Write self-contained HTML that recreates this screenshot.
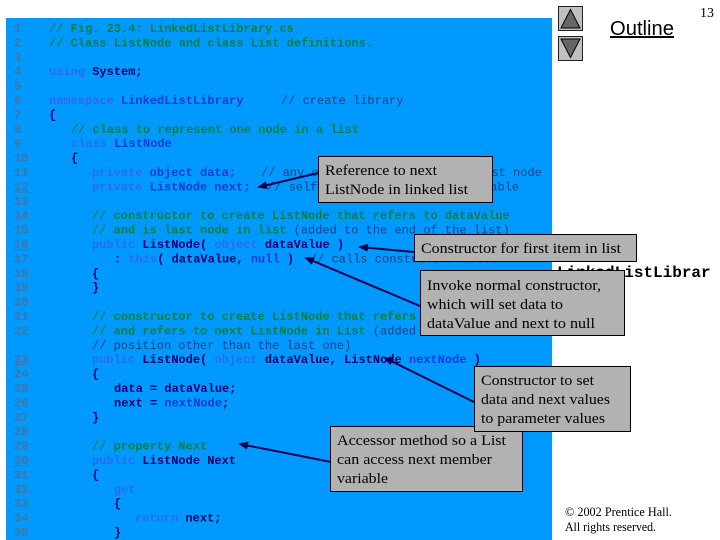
<!DOCTYPE html>
<html lang="en">
<head>
<meta charset="utf-8">
<title>Linked List Library</title>
<style>
html,body{margin:0;padding:0;background:#fff;width:720px;height:540px;overflow:hidden}
svg{display:block}
text{white-space:pre}
.c{font-family:"Liberation Mono",monospace;font-size:12px;font-weight:bold;fill:#00006a}
.n{font-family:"Liberation Mono",monospace;font-size:12px;font-weight:bold;fill:#46749f}
.g{fill:#00803c}
.k{fill:#2a6cf0}
.m{fill:#0a3cd8}
.r{font-weight:normal;fill:#14407f}
.b{font-family:"Liberation Serif",serif;font-size:15px;fill:#000}
.u{text-decoration:underline}
</style>
</head>
<body>
<svg width="720" height="540" viewBox="0 0 720 540" xmlns="http://www.w3.org/2000/svg">
<defs>
<marker id="a" markerWidth="10" markerHeight="8" refX="8" refY="4" orient="auto" markerUnits="userSpaceOnUse">
<path d="M0 0L10 4L0 8Z" fill="#000050"/>
</marker>
</defs>
<rect width="720" height="540" fill="#fff"/>
<rect x="6" y="18" width="546" height="522" fill="#0099ff"/>

<text x="557" y="277" font-family="'Liberation Mono',monospace" font-size="16" font-weight="bold" fill="#000">LinkedListLibrar</text>

<g class="n">
<text class="n" x="14" y="32">1</text>
<text class="n" x="14" y="46.4">2</text>
<text class="n" x="14" y="60.8">3</text>
<text class="n" x="14" y="75.2">4</text>
<text class="n" x="14" y="89.6">5</text>
<text class="n" x="14" y="104">6</text>
<text class="n" x="14" y="118.4">7</text>
<text class="n" x="14" y="132.8">8</text>
<text class="n" x="14" y="147.2">9</text>
<text class="n" x="14" y="161.6">10</text>
<text class="n" x="14" y="176">11</text>
<text class="n u" x="14" y="190.4">12</text>
<text class="n" x="14" y="204.8">13</text>
<text class="n" x="14" y="219.2">14</text>
<text class="n" x="14" y="233.6">15</text>
<text class="n u" x="14" y="248">16</text>
<text class="n" x="14" y="262.4">17</text>
<text class="n" x="14" y="276.8">18</text>
<text class="n" x="14" y="291.2">19</text>
<text class="n" x="14" y="305.6">20</text>
<text class="n" x="14" y="320">21</text>
<text class="n" x="14" y="334.4">22</text>
<text class="n u" x="14" y="363.2">23</text>
<text class="n" x="14" y="377.6">24</text>
<text class="n" x="14" y="392">25</text>
<text class="n" x="14" y="406.4">26</text>
<text class="n" x="14" y="420.8">27</text>
<text class="n" x="14" y="435.2">28</text>
<text class="n" x="14" y="449.6">29</text>
<text class="n u" x="14" y="464">30</text>
<text class="n" x="14" y="478.4">31</text>
<text class="n" x="14" y="492.8">32</text>
<text class="n" x="14" y="507.2">33</text>
<text class="n" x="14" y="521.6">34</text>
<text class="n" x="14" y="536">35</text>
</g>

<text class="c g" x="49" y="32">// Fig. 23.4: LinkedListLibrary.cs</text>
<text class="c g" x="49" y="46.4">// Class ListNode and class List definitions.</text>
<text class="c" x="49" y="75.2"><tspan class="k">using</tspan> System;</text>
<text class="c" x="49" y="104"><tspan class="k">namespace</tspan> <tspan class="m">LinkedListLibrary</tspan><tspan class="r" x="281">// create library</tspan></text>
<text class="c" x="49" y="118.4">{</text>
<text class="c g" x="71" y="132.8">// class to represent one node in a list</text>
<text class="c" x="71" y="147.2"><tspan class="k">class</tspan> <tspan class="m">ListNode</tspan></text>
<text class="c" x="71" y="161.6">{</text>
<text class="c m" x="92" y="176"><tspan class="k">private</tspan> object data;<tspan class="r" x="261">// any object stored within a list node</tspan></text>
<text class="c m" x="92" y="190.4"><tspan class="k">private</tspan> ListNode next;<tspan class="r" x="267">// self-referential member variable</tspan></text>
<text class="c g" x="92" y="219.2">// constructor to create ListNode that refers to dataValue</text>
<text class="c g" x="92" y="233.6">// and is last node in list<tspan class="r"> (added to the end of the list)</tspan></text>
<text class="c" x="92" y="248"><tspan class="k">public</tspan> ListNode( <tspan class="k">object</tspan> dataValue )</text>
<text class="c" x="114" y="262.4">: <tspan class="k">this</tspan>( dataValue, <tspan class="m">null</tspan> )<tspan class="r" x="310">// calls constructor below</tspan></text>
<text class="c" x="92" y="276.8">{</text>
<text class="c" x="92" y="291.2">}</text>
<text class="c g" x="92" y="320">// constructor to create ListNode that refers to dataValue</text>
<text class="c g" x="92" y="334.4">// and refers to next ListNode in List<tspan class="r"> (added to a</tspan></text>
<text class="c r" x="92" y="348.8">// position other than the last one)</text>
<text class="c" x="92" y="363.2"><tspan class="k">public</tspan> ListNode( <tspan class="k">object</tspan> dataValue, ListNode <tspan class="m">nextNode</tspan> )</text>
<text class="c" x="92" y="377.6">{</text>
<text class="c" x="114" y="392">data = dataValue;</text>
<text class="c" x="114" y="406.4">next = <tspan class="m">nextNode</tspan>;</text>
<text class="c" x="92" y="420.8">}</text>
<text class="c g" x="92" y="449.6">// property Next</text>
<text class="c" x="92" y="464"><tspan class="k">public</tspan> ListNode Next</text>
<text class="c" x="92" y="478.4">{</text>
<text class="c k" x="114" y="492.8">get</text>
<text class="c" x="114" y="507.2">{</text>
<text class="c" x="135" y="521.6"><tspan class="k">return</tspan> next;</text>
<text class="c" x="114" y="536">}</text>

<g stroke="#000050" stroke-width="2" fill="none">
<line x1="318" y1="173" x2="259" y2="187" marker-end="url(#a)"/>
<line x1="414" y1="252" x2="360" y2="247" marker-end="url(#a)"/>
<line x1="420" y1="306" x2="306" y2="258" marker-end="url(#a)"/>
<line x1="474" y1="402" x2="385" y2="358" marker-end="url(#a)"/>
<line x1="331" y1="462" x2="240" y2="444" marker-end="url(#a)"/>
</g>

<rect x="318.500" y="156.500" width="174" height="46" fill="#b2b2b2" stroke="#000"/>
<text class="b" x="325" y="175" textLength="112" lengthAdjust="spacingAndGlyphs">Reference to next</text>
<text class="b" x="325" y="194" textLength="143" lengthAdjust="spacingAndGlyphs">ListNode in linked list</text>

<rect x="414.500" y="234.500" width="222" height="27" fill="#b2b2b2" stroke="#000"/>
<text class="b" x="421" y="253" textLength="200" lengthAdjust="spacingAndGlyphs">Constructor for first item in list</text>

<rect x="420.500" y="270.500" width="204" height="65" fill="#b2b2b2" stroke="#000"/>
<text class="b" x="427" y="290" textLength="174" lengthAdjust="spacingAndGlyphs">Invoke normal constructor,</text>
<text class="b" x="427" y="309" textLength="136" lengthAdjust="spacingAndGlyphs">which will set data to</text>
<text class="b" x="427" y="328" textLength="168" lengthAdjust="spacingAndGlyphs">dataValue and next to null</text>

<rect x="330.500" y="426.500" width="192" height="65" fill="#b2b2b2" stroke="#000"/>
<text class="b" x="337" y="445" textLength="169" lengthAdjust="spacingAndGlyphs">Accessor method so a List</text>
<text class="b" x="337" y="464" textLength="155" lengthAdjust="spacingAndGlyphs">can access next member</text>
<text class="b" x="337" y="483" textLength="51" lengthAdjust="spacingAndGlyphs">variable</text>

<rect x="474.500" y="366.500" width="156" height="65" fill="#b2b2b2" stroke="#000"/>
<text class="b" x="481" y="385" textLength="113" lengthAdjust="spacingAndGlyphs">Constructor to set</text>
<text class="b" x="481" y="404" textLength="129" lengthAdjust="spacingAndGlyphs">data and next values</text>
<text class="b" x="481" y="423" textLength="124" lengthAdjust="spacingAndGlyphs">to parameter values</text>

<rect x="558.500" y="6.500" width="24" height="24" fill="#c0c0c0" stroke="#222"/>
<polygon points="570.500,9.500 580,28 561,28" fill="#666" stroke="#000"/>
<rect x="558.500" y="36.500" width="24" height="24" fill="#c0c0c0" stroke="#222"/>
<polygon points="570.500,57.500 580,39 561,39" fill="#666" stroke="#000"/>

<text x="610" y="35" font-family="'Liberation Sans',sans-serif" font-size="20" fill="#000" textLength="64" lengthAdjust="spacingAndGlyphs">Outline</text>
<rect x="610" y="36" width="64" height="2" fill="#000"/>
<text x="700" y="17" font-family="'Liberation Serif',serif" font-size="14" fill="#000">13</text>
<text x="565" y="516" font-family="'Liberation Serif',serif" font-size="12.500" fill="#000" textLength="107" lengthAdjust="spacingAndGlyphs">© 2002 Prentice Hall.</text>
<text x="565" y="531" font-family="'Liberation Serif',serif" font-size="12.500" fill="#000" textLength="91" lengthAdjust="spacingAndGlyphs">All rights reserved.</text>
</svg>
</body>
</html>
